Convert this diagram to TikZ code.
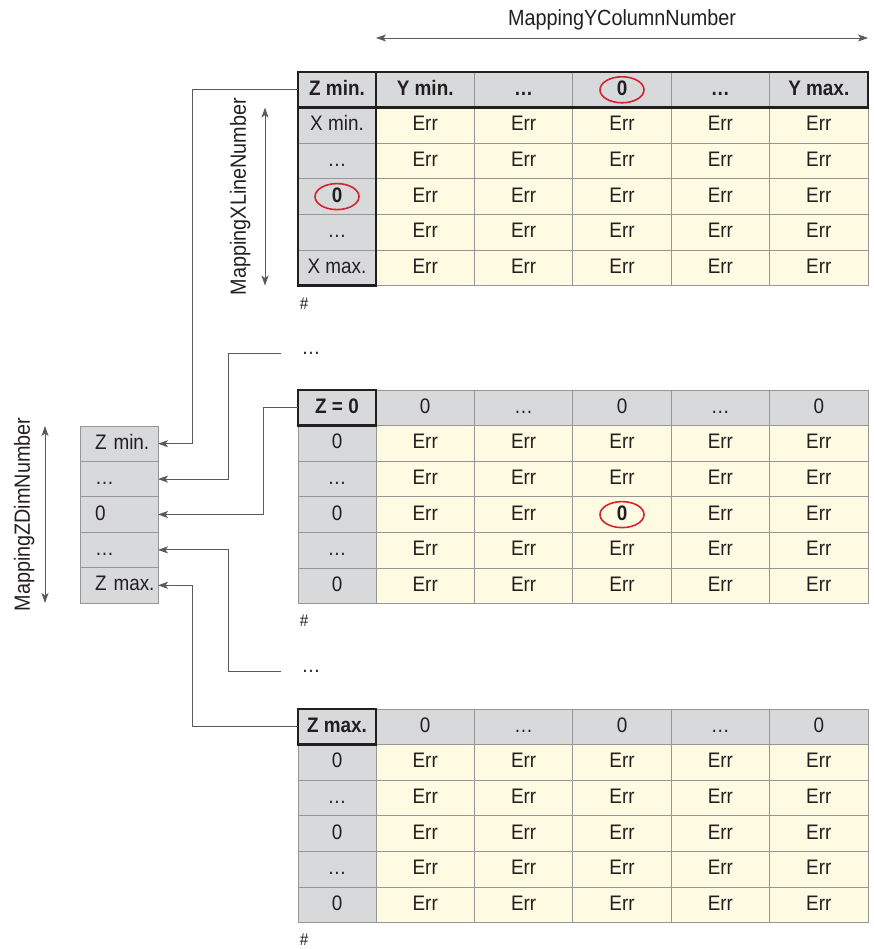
\documentclass[tikz,border=0pt]{standalone}
\usepackage{fontspec}
\setmainfont{Liberation Sans}[FakeStretch=0.9]
\usepackage{tikz}
\usetikzlibrary{arrows.meta, calc, positioning}
\definecolor{hdrgray}{RGB}{216,217,219}
\definecolor{erryellow}{RGB}{254,251,226}
\definecolor{gridgray}{RGB}{150,150,150}
\definecolor{linegray}{RGB}{90,90,90}
\definecolor{inkgray}{RGB}{35,31,32}
\definecolor{ringred}{RGB}{212,35,45}

% one mapping table: name, top y, header row, first column, cell holding the 0
\newcommand{\mapgrid}[5]{%
  \foreach \txt [count=\c from 0] in {#3} {
    \pgfmathsetmacro{\xx}{\c==0 ? 298 : 376+(\c-1)*98.4}
    \pgfmathsetmacro{\ww}{\c==0 ? 78 : 98.4}
    \node[cell, fill=hdrgray, minimum width={\ww pt}] (#1-0-\c) at (\xx,#2) {\txt};
  }
  \foreach \txt [count=\r] in {#4} {
    \node[cell, fill=hdrgray, minimum width=78pt] (#1-\r-0) at (298,{#2+\r*35.6}) {\txt};
    \foreach \c in {1,...,5} {
      \edef\cellkey{\r-\c}\def\cellwant{#5}%
      \ifx\cellkey\cellwant\def\celltxt{\textbf{0}}\else\def\celltxt{Err}\fi
      \node[cell, fill=erryellow, minimum width=98.4pt] (#1-\r-\c) at ({376+(\c-1)*98.4},{#2+\r*35.6}) {\celltxt};
    }
  }
}

\begin{document}
\begin{tikzpicture}[x=1pt, y=-1pt,
  cell/.style={draw=gridgray, line width=0.8pt, minimum height=35.6pt, anchor=north west, inner sep=0pt, outer sep=0pt, text height=15pt, text depth=4pt, font=\fontsize{21}{24}\selectfont, text=inkgray},
  zcell/.style={cell, fill=hdrgray, minimum width=78pt, minimum height=35.4pt, text width=48pt, align=left, inner xsep=15pt},
  note/.style={inner sep=0pt, text=inkgray, font=\fontsize{21}{24}\selectfont},
  axislabel/.style={note, font=\fontsize{22}{26}\selectfont},
  thickbox/.style={draw=inkgray, line width=2.4pt},
  ring/.style={draw=ringred, line width=1.6pt},
  conn/.style={draw=linegray, line width=1pt, -{Stealth[length=10pt,width=7pt,inset=2.5pt]}},
  dimarrow/.style={draw=linegray, line width=0.9pt, {Stealth[length=10pt,width=7pt,inset=2.5pt]}-{Stealth[length=10pt,width=7pt,inset=2.5pt]}}]
\useasboundingbox (0,0) rectangle (874,949);

% the three tables
\mapgrid{top}{72}{\textbf{Z min.}, \textbf{Y min.}, \textbf{\dots}, \textbf{0}, \textbf{\dots}, \textbf{Y max.}}{X min., \dots, \textbf{0}, \dots, X max.}{none}
\mapgrid{mid}{390}{\textbf{Z = 0}, 0, \dots, 0, \dots, 0}{0, \dots, 0, \dots, 0}{3-3}
\mapgrid{bot}{709}{\textbf{Z max.}, 0, \dots, 0, \dots, 0}{0, \dots, 0, \dots, 0}{none}

\draw[thickbox] (top-0-0.north west) rectangle (top-0-5.south east);
\draw[thickbox] (top-0-0.north west) rectangle (top-5-0.south east);
\draw[thickbox] (mid-0-0.north west) rectangle (mid-0-0.south east);
\draw[thickbox] (bot-0-0.north west) rectangle (bot-0-0.south east);

\draw[ring] (top-0-3) ellipse [x radius=22pt, y radius=13pt];
\draw[ring] (top-3-0) ellipse [x radius=22pt, y radius=13pt];
\draw[ring] (mid-3-3) ellipse [x radius=22pt, y radius=13pt];

\node[note, font=\fontsize{17}{20}\selectfont] (hashA) at (304,304) {\#};
\node[note, font=\fontsize{17}{20}\selectfont] (hashB) at (304,621) {\#};
\node[note, font=\fontsize{17}{20}\selectfont] (hashC) at (304,940) {\#};
\node[note, inner xsep=20pt] (gapA) at (311,353) {\dots};
\node[note, inner xsep=20pt] (gapB) at (311,671) {\dots};

% Z dimension index
\foreach \txt [count=\i] in {Z min., \dots, 0, \dots, Z max.}
  \node[zcell] (zd-\i) at (80,{426+(\i-1)*35.4}) {\mbox{\txt}};

\draw[conn] (top-0-0.west) -- ++(-106,0) |- (zd-1.east);
\draw[conn] (gapA.west) -- ++(-53,0) |- (zd-2.east);
\draw[conn] (mid-0-0.west) -- ++(-35,0) |- (zd-3.east);
\draw[conn] (gapB.west) -- ++(-53,0) |- (zd-4.east);
\draw[conn] (bot-0-0.west) -- ++(-106,0) |- (zd-5.east);

% axis arrows
\draw[dimarrow] ([yshift=34pt]top-0-1.north west) -- node[axislabel, above=7pt] (ylab) {MappingYColumnNumber} ([yshift=34pt]top-0-5.north east);
\draw[dimarrow] ([xshift=-33pt]top-1-0.north west) -- node[axislabel, rotate=90, anchor=south, inner ysep=14pt] (xlab) {MappingXLineNumber} ([xshift=-33pt]top-5-0.south west);
\draw[dimarrow] ([xshift=-35pt]zd-1.north west) -- node[axislabel, rotate=90, anchor=south, inner ysep=10pt] (zlab) {MappingZDimNumber} ([xshift=-35pt]zd-5.south west);
\end{tikzpicture}
\end{document}
